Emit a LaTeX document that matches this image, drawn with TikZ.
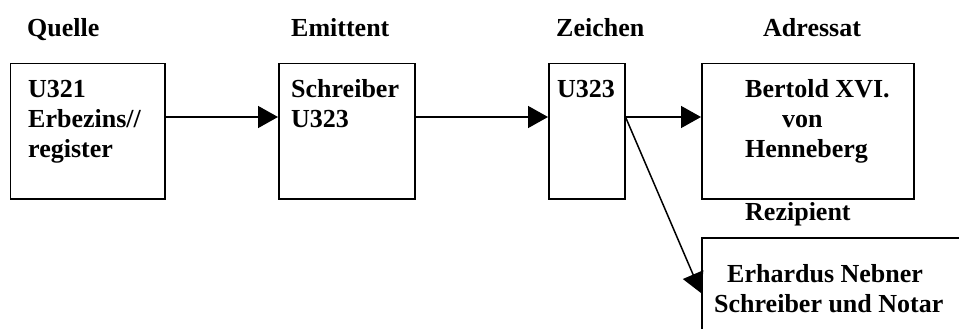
\documentclass[tikz,border=0pt]{standalone}
\usepackage{fontspec}
\setmainfont{Liberation Serif}
\usetikzlibrary{arrows.meta}
\begin{document}
\begin{tikzpicture}[x=1pt,y=-1pt,
  box/.style={draw, line width=1.5pt, inner sep=0pt, anchor=north west, minimum height=135pt},
  txt/.style={anchor=base west, inner sep=0pt, font=\fontsize{26}{30}\selectfont\bfseries},
  arr/.style={line width=1.5pt, -{Triangle[length=20pt,width=22pt]}}]
\clip (0,0) rectangle (959,329);
\fill[white] (0,0) rectangle (959,329);
% headings
\node[txt] (hq) at (27,37) {Quelle};
\node[txt] (he) at (291,37) {Emittent};
\node[txt] (hz) at (556,37) {Zeichen};
\node[txt] (ha) at (763,37) {Adressat};
\node[txt] (hr) at (745,220) {Rezipient};
% boxes
\node[box, minimum width=154.5pt] (q) at (9.5,63) {};
\node[box, minimum width=136pt] (e) at (278,63) {};
\node[box, minimum width=76pt] (z) at (548,63) {};
\node[box, minimum width=212pt] (a) at (701,63) {};
\node[box, minimum width=300pt, minimum height=150pt] (r) at (701,237) {};
% box texts
\node[txt] (q1) at (28,98) {U321};
\node[txt] (q2) at (28,128) {Erbezins//};
\node[txt] (q3) at (28,157) {register};
\node[txt] (e1) at (291,98) {Schreiber};
\node[txt] (e2) at (291,128) {U323};
\node[txt] (z1) at (557,98) {U323};
\node[txt] (a1) at (745,98) {Bertold XVI.};
\node[txt] (a2) at (782,128) {von};
\node[txt] (a3) at (745,157) {Henneberg};
\node[txt] (r1) at (727,282) {Erhardus Nebner};
\node[txt] (r2) at (714,312) {Schreiber und Notar};
% connectors
\coordinate (ay) at (0,117);
\coordinate (dy) at (0,293);
\draw[arr] (q.east |- ay) -- (e.west |- ay);
\draw[arr] (e.east |- ay) -- (z.west |- ay);
\draw[arr] (z.east |- ay) -- (a.west |- ay);
\draw[arr] (z.east |- ay) -- (r.west |- dy);
\end{tikzpicture}
\end{document}
